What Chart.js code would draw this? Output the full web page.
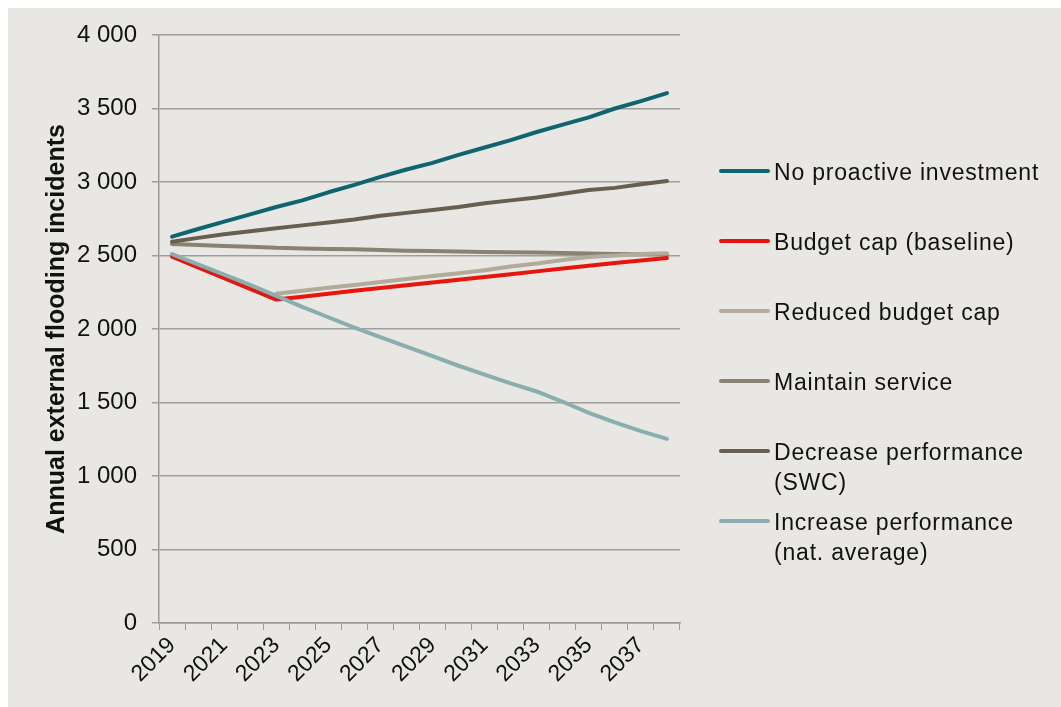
<!DOCTYPE html>
<html>
<head>
<meta charset="utf-8">
<script src="https://cdn.jsdelivr.net/npm/chart.js@4"></script>
<style>
    html, body { margin: 0; padding: 0; background: #ffffff; }
    #panel {
        position: absolute; left: 8px; top: 8px; width: 1053px; height: 699px;
        background: #e9e7e3;
    }
    #wrap { position: absolute; left: 0; top: 0; width: 1061px; height: 707px; }
    #legend {
        position: absolute; left: 719px; top: 0; width: 342px;
        font-family: "Liberation Sans", Arial, sans-serif; font-size: 23px;
        letter-spacing: 0.8px; color: #111;
    }
    .item { position: absolute; left: 0; display: flex; align-items: flex-start; }
    .swatch { width: 51px; height: 4px; border-radius: 2px; margin-right: 4px; margin-top: 12px; }
    .txt { line-height: 30px; white-space: nowrap; }
</style>
</head>
<body>
<div id="panel"></div>
<div id="wrap"><canvas id="chart" width="1061" height="707"></canvas></div>
<div id="legend"></div>
<script>
// === DATA ===
const YEARS = ["2019", "2020", "2021", "2022", "2023", "2024", "2025", "2026", "2027", "2028",
    "2029", "2030", "2031", "2032", "2033", "2034", "2035", "2036", "2037", "2038"];

const NO_PROACTIVE = [2628, 2680, 2730, 2780, 2830, 2875, 2930, 2980, 3035, 3085,
    3130, 3185, 3235, 3285, 3340, 3390, 3440, 3500, 3550, 3605];
const BUDGET_CAP = [2492, 2419, 2346, 2273, 2200, 2220, 2240, 2260, 2279, 2297,
    2316, 2335, 2354, 2373, 2392, 2411, 2430, 2449, 2466, 2483];
const REDUCED_CAP = [null, null, null, null, 2240, 2260, 2280, 2300, 2320, 2340,
    2360, 2380, 2400, 2425, 2445, 2470, 2490, 2500, 2510, 2515];
const MAINTAIN = [2578, 2572, 2565, 2560, 2552, 2548, 2545, 2542, 2537, 2533,
    2530, 2527, 2524, 2522, 2520, 2517, 2514, 2511, 2509, 2508];
const DECREASE_PERF = [2594, 2620, 2645, 2665, 2685, 2705, 2725, 2745, 2770, 2790,
    2810, 2830, 2855, 2875, 2895, 2920, 2945, 2960, 2985, 3007];
const INCREASE_PERF = [2510, 2440, 2370, 2300, 2225, 2150, 2080, 2010, 1945, 1880,
    1815, 1750, 1690, 1630, 1575, 1505, 1430, 1365, 1305, 1252];

const SERIES_NAMES = [
    ["No proactive investment"],
    ["Budget cap (baseline)"],
    ["Reduced budget cap"],
    ["Maintain service"],
    ["Decrease performance", "(SWC)"],
    ["Increase performance", "(nat. average)"],
];
const SERIES_DATA = [NO_PROACTIVE, BUDGET_CAP, REDUCED_CAP, MAINTAIN, DECREASE_PERF, INCREASE_PERF];
const SERIES_COLORS = ["#0f6470", "#e8140e", "#b2aa9a", "#8b8171", "#675e4f", "#88aeb0"];
// draw order (lower = on top)
const SERIES_ORDER = [0, 3, 4, 5, 2, 1];
const LEGEND_TOPS = [157, 227, 297, 367, 437, 507];

const Y_TICKS = [0, 500, 1000, 1500, 2000, 2500, 3000, 3500, 4000];

const fmt = (v) => String(v).replace(/\B(?=(\d{3})+(?!\d))/g, " ");

// === CHART ===
const ctx = document.getElementById("chart").getContext("2d");
new Chart(ctx, {
    type: "line",
    data: {
        labels: YEARS,
        datasets: SERIES_DATA.map((d, i) => ({
            label: SERIES_NAMES[i].join(" "),
            data: d,
            borderColor: SERIES_COLORS[i],
            backgroundColor: SERIES_COLORS[i],
            borderWidth: 4,
            pointRadius: 0,
            tension: 0,
            borderCapStyle: "round",
            borderJoinStyle: "round",
            order: SERIES_ORDER[i],
        })),
    },
    options: {
        responsive: false,
        animation: false,
        layout: { padding: { left: 0, right: 381, top: 35, bottom: 0 } },
        plugins: { legend: { display: false }, tooltip: { enabled: false } },
        scales: {
            x: {
                offset: true,
                grid: {
                    display: true, drawOnChartArea: false, drawTicks: true,
                    tickLength: 7, color: "#9a9a9a", offset: true,
                },
                border: { color: "#9a9a9a", width: 1.5 },
                ticks: {
                    autoSkip: false, maxRotation: 45, minRotation: 45,
                    padding: 2, color: "#111",
                    font: { family: "Liberation Sans, Arial, sans-serif", size: 23 },
                    callback: (v, i) => (i % 2 === 0 ? YEARS[i] : ""),
                },
                afterFit: (scale) => { scale.height = 84; },
            },
            y: {
                min: 0, max: 4000,
                afterBuildTicks: (scale) => { scale.ticks = Y_TICKS.map((v) => ({ value: v })); },
                grid: { color: "#a09e9a", lineWidth: 1.5, tickLength: 7 },
                border: { color: "#9a9a9a", width: 1.5 },
                ticks: {
                    padding: 15, color: "#111",
                    font: { family: "Liberation Sans, Arial, sans-serif", size: 24 },
                    callback: (v) => fmt(v),
                },
                title: {
                    display: true,
                    text: "Annual external flooding incidents",
                    color: "#111",
                    padding: { top: 42, bottom: 0 },
                    font: { family: "Liberation Sans, Arial, sans-serif", size: 25, weight: "bold" },
                },
                afterFit: (scale) => { scale.width = 159; },
            },
        },
    },
});

// === LEGEND (html) ===
const legend = document.getElementById("legend");
SERIES_NAMES.forEach((lines, i) => {
    const item = document.createElement("div");
    item.className = "item";
    item.style.top = LEGEND_TOPS[i] + "px";
    item.innerHTML = `<div class="swatch" style="background:${SERIES_COLORS[i]}"></div>` +
        `<div class="txt">${lines.join("<br>")}</div>`;
    legend.appendChild(item);
});
</script>
</body>
</html>
